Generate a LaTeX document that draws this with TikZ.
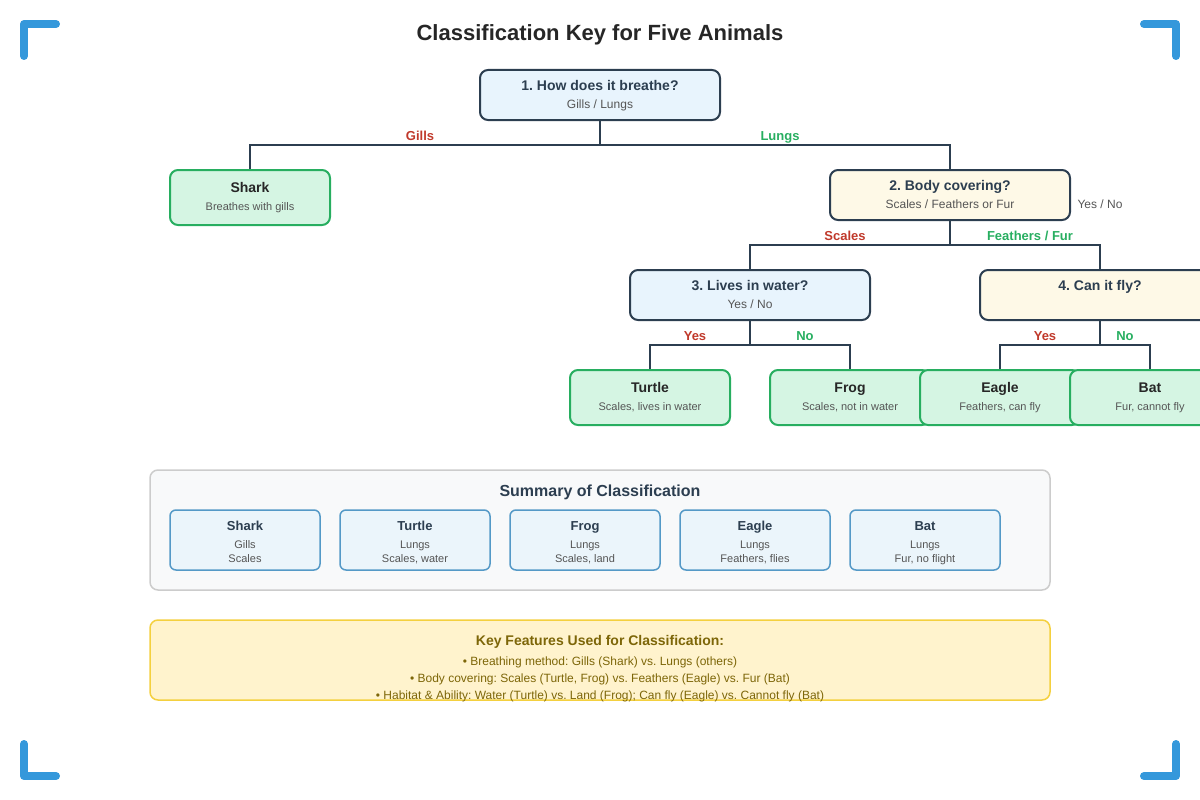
\documentclass[tikz,border=0pt]{standalone}
\usepackage{fontspec}
\setmainfont{Liberation Sans}
\frenchspacing
\usetikzlibrary{positioning}
\definecolor{darkline}{HTML}{2C3E50}
\definecolor{qblue}{HTML}{E8F4FD}
\definecolor{qcream}{HTML}{FEF9E7}
\definecolor{leaffill}{HTML}{D5F5E3}
\definecolor{leafline}{HTML}{27AE60}
\definecolor{yesred}{HTML}{C0392B}
\definecolor{nogreen}{HTML}{27AE60}
\definecolor{subgrey}{HTML}{555555}
\definecolor{cellfill}{HTML}{EBF5FB}
\definecolor{cellline}{HTML}{5499C7}
\definecolor{sumfill}{HTML}{F8F9FA}
\definecolor{sumline}{HTML}{CCCCCC}
\definecolor{keyfill}{HTML}{FFF3CD}
\definecolor{keyline}{HTML}{F4D03F}
\definecolor{keytext}{HTML}{7D6608}
\definecolor{cornerblue}{HTML}{3498DB}
\newcommand{\subline}[1]{{\fontsize{12}{18}\selectfont\mdseries\color{subgrey}#1}}
\newcommand{\leafsub}[1]{{\fontsize{11}{18}\selectfont\mdseries\color{subgrey}#1}}
\newcommand{\cellsub}[1]{{\fontsize{11}{14}\selectfont\mdseries\color{subgrey}#1}}
\begin{document}
\begin{tikzpicture}[x=1pt, y=-1pt,
    box/.style={draw, rounded corners=8pt, line width=2pt, align=center, inner sep=0pt, text depth=3pt},
    qbox/.style={box, draw=darkline, minimum width=240pt, minimum height=50pt, text height=29pt, text=darkline, font=\fontsize{14}{18}\selectfont\bfseries},
    leafbox/.style={box, draw=leafline, fill=leaffill, minimum width=160pt, minimum height=55pt, text height=28pt, text=black!85, font=\fontsize{14}{18}\selectfont\bfseries},
    link/.style={draw=darkline, line width=2pt},
    yeslabel/.style={anchor=base, text=yesred, font=\fontsize{13}{13}\selectfont\bfseries},
    nolabel/.style={anchor=base, text=nogreen, font=\fontsize{13}{13}\selectfont\bfseries},
    cell/.style={draw=cellline, fill=cellfill, rounded corners=6pt, line width=1.5pt, minimum width=150pt, minimum height=60pt, align=center, inner sep=0pt, outer sep=0pt, text height=47pt, text depth=3pt, text=darkline, font=\fontsize{13}{14}\selectfont\bfseries},
    cornermark/.style={draw=cornerblue, line width=8pt, line cap=round, line join=round}
  ]
  \clip (0,0) rectangle (1200,800);
  % corner marks
  \draw[cornermark] (24,56) -- (24,24) -- (56,24);
  \draw[cornermark] (1144,24) -- (1176,24) -- (1176,56);
  \draw[cornermark] (24,744) -- (24,776) -- (56,776);
  \draw[cornermark] (1144,776) -- (1176,776) -- (1176,744);
  \node[anchor=base, text=black!85, font=\fontsize{22}{22}\selectfont\bfseries] (title) at (600,41) {Classification Key for Five Animals};
  % key questions
  \node[qbox, fill=qblue] (q1) at (600,95) {1. How does it breathe?\\\subline{Gills / Lungs}};
  \node[qbox, fill=qcream] (q2) at (950,195) {2. Body covering?\\\subline{Scales / Feathers or Fur}};
  \node[anchor=base, text=subgrey, font=\fontsize{12}{12}\selectfont] (q2note) at (1100,208) {Yes / No};
  \node[qbox, fill=qblue] (q3) at (750,295) {3. Lives in water?\\\subline{Yes / No}};
  \node[qbox, fill=qcream] (q4) at (1100,295) {4. Can it fly?\\\subline{\vphantom{Lg}}};
  % animals
  \node[leafbox] (shark) at (250,197.5) {Shark\\\leafsub{Breathes with gills}};
  \node[leafbox] (turtle) at (650,397.5) {Turtle\\\leafsub{Scales, lives in water}};
  \node[leafbox] (frog) at (850,397.5) {Frog\\\leafsub{Scales, not in water}};
  \node[leafbox] (eagle) at (1000,397.5) {Eagle\\\leafsub{Feathers, can fly}};
  \node[leafbox] (bat) at (1150,397.5) {Bat\\\leafsub{Fur, cannot fly}};
  % branches
  \draw[link] (q1.south) -- ++(0,24) -| (shark.north);
  \draw[link] (q1.south) -- ++(0,24) -| (q2.north);
  \draw[link] (q2.south) -- ++(0,24) -| (q3.north);
  \draw[link] (q2.south) -- ++(0,24) -| (q4.north);
  \draw[link] (q3.south) -- ++(0,24) -| (turtle.north);
  \draw[link] (q3.south) -- ++(0,24) -| (frog.north);
  \draw[link] (q4.south) -- ++(0,24) -| (eagle.north);
  \draw[link] (q4.south) -- ++(0,24) -| (bat.north);
  \node[yeslabel] (gills) at (420,140) {Gills};
  \node[nolabel] (lungs) at (780,140) {Lungs};
  \node[yeslabel] (scales) at (845,240) {Scales};
  \node[nolabel] (fur) at (1030,240) {Feathers / Fur};
  \node[yeslabel] (yes3) at (695,340) {Yes};
  \node[nolabel] (no3) at (805,340) {No};
  \node[yeslabel] (yes4) at (1045,340) {Yes};
  \node[nolabel] (no4) at (1125,340) {No};
  % summary
  \node[draw=sumline, fill=sumfill, line width=1.5pt, rounded corners=8pt, minimum width=900pt, minimum height=120pt] (summary) at (600,530) {};
  \node[anchor=base, text=darkline, font=\fontsize{16}{16}\selectfont\bfseries] (sumtitle) at (600,496) {Summary of Classification};
  \node[cell] (cshark) at (245,540) {Shark\\[4pt]\cellsub{Gills}\\\cellsub{Scales}};
  \node[cell, right=20pt of cshark] (cturtle) {Turtle\\[4pt]\cellsub{Lungs}\\\cellsub{Scales, water}};
  \node[cell, right=20pt of cturtle] (cfrog) {Frog\\[4pt]\cellsub{Lungs}\\\cellsub{Scales, land}};
  \node[cell, right=20pt of cfrog] (ceagle) {Eagle\\[4pt]\cellsub{Lungs}\\\cellsub{Feathers, flies}};
  \node[cell, right=20pt of ceagle] (cbat) {Bat\\[4pt]\cellsub{Lungs}\\\cellsub{Fur, no flight}};
  % key features
  \node[draw=keyline, fill=keyfill, line width=1.5pt, rounded corners=8pt, minimum width=900pt, minimum height=80pt] (key) at (600,660) {};
  \node[below=16pt of key.north, inner sep=0pt, align=center, text=keytext, font=\fontsize{12}{17}\selectfont] (keytxt) {{\bfseries\fontsize{14}{17}\selectfont Key Features Used for Classification:}\\[3pt]
    • Breathing method: Gills (Shark) vs. Lungs (others)\\
    • Body covering: Scales (Turtle, Frog) vs. Feathers (Eagle) vs. Fur (Bat)\\
    • Habitat \& Ability: Water (Turtle) vs. Land (Frog); Can fly (Eagle) vs. Cannot fly (Bat)};
\end{tikzpicture}
\end{document}
